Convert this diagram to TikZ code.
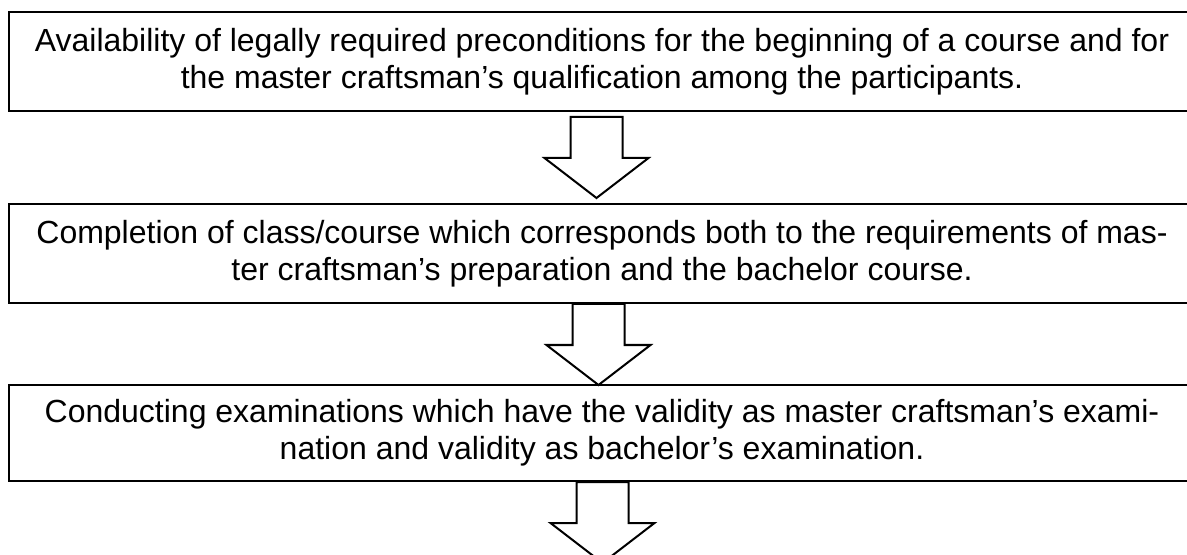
\documentclass[tikz,border=0pt]{standalone}
\usepackage{fontspec}
\setmainfont{Liberation Sans}
\usetikzlibrary{calc}
\tikzset{
	stagebox/.style={draw, line width=1pt, minimum width=593pt, minimum height=49.5pt, inner sep=0pt, align=center, font=\fontsize{16}{18.5}\selectfont},
	blockarrow/.style={draw, line width=1pt, fill=white, line join=miter}
}
\def\blockdown#1#2{\draw[blockarrow] ($(#1)+(#2)+(-26,0)$) -- ++(0,41) -- ++(-26,0) -- ++(52,40) -- ++(52,-40) -- ++(-26,0) -- ++(0,-41) -- cycle;}

\begin{document}
\begin{tikzpicture}[x=0.5pt, y=-0.5pt]
			%%%%% START %%%%%
			\useasboundingbox (0, 0) rectangle (1187, 555);
			
			\node[stagebox] (box1) at (602, 61.5) {Availability of legally required preconditions for the beginning of a course and for\\the master craftsman’s qualification among the participants.};
			\node[stagebox] (box2) at (602, 253.5) {Completion of class/course which corresponds both to the requirements of mas-\\ter craftsman’s preparation and the bachelor course.};
			\node[stagebox, minimum height=48pt] (box3) at (602, 433) {Conducting examinations which have the validity as master craftsman’s exami-\\nation and validity as bachelor’s examination.};
			
			\blockdown{box1.south}{-5.5, 5}
			\blockdown{box2.south}{-3.5, 0}
			\blockdown{box3.south}{0.5, 0}
			
			%%%%% END %%%%%
\end{tikzpicture}
\end{document}
